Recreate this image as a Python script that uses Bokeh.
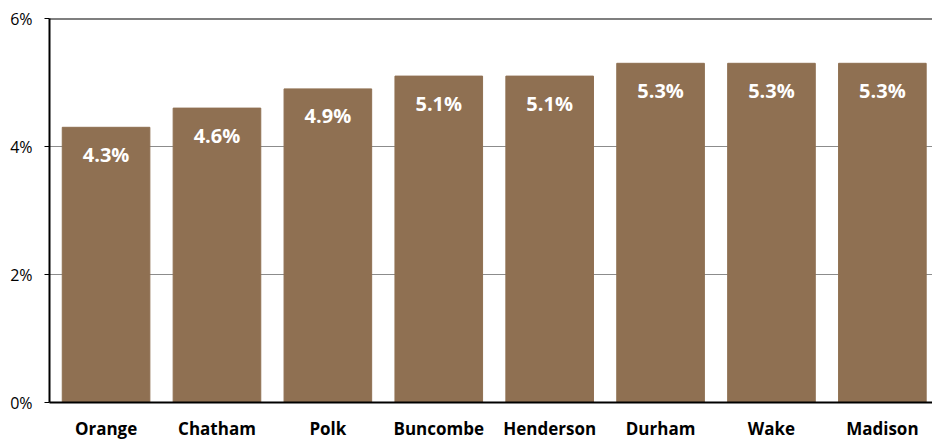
from bokeh.plotting import figure
from bokeh.models import ColumnDataSource, FixedTicker, Span, Range1d
from bokeh.core.properties import value
from bokeh.embed import file_html
from bokeh.resources import INLINE

counties = ["Orange", "Chatham", "Polk", "Buncombe", "Henderson", "Durham", "Wake", "Madison"]
rates = [4.3, 4.6, 4.9, 5.1, 5.1, 5.3, 5.3, 5.3]
y_ticks = [0, 2, 4, 6]
y_tick_labels = ["0%", "2%", "4%", "6%"]

FONT = "Open Sans"
BAR = "#8F7052"

idx = list(range(len(counties)))
src = ColumnDataSource(dict(x=idx, top=rates, lab=[f"{r:.1f}%" for r in rates]))

p = figure(frame_width=883, frame_height=384, output_backend="svg", toolbar_location=None,
           x_range=Range1d(-0.51, 7.452), y_range=Range1d(0, 6),
           min_border_left=49, min_border_right=0, min_border_top=18, min_border_bottom=30)
p.outline_line_color = None
p.background_fill_color = "white"

p.vbar(x="x", top="top", width=0.79, bottom=0, source=src, color=BAR)
p.text(x="x", y="top", text="lab", source=src, text_color="white",
       text_font=value(FONT), text_font_style="bold", text_font_size="20px",
       text_align="center", text_baseline="middle", y_offset=27)

p.xgrid.visible = False
p.ygrid.grid_line_color = "#8c8c8c"
p.ygrid.grid_line_width = 1
p.ygrid.ticker = FixedTicker(ticks=y_ticks)

p.yaxis.ticker = FixedTicker(ticks=y_ticks)
p.yaxis.major_label_overrides = {t: l for t, l in zip(y_ticks, y_tick_labels)}
p.yaxis.axis_line_color = "black"
p.yaxis.axis_line_width = 2
p.yaxis.major_tick_line_color = "black"
p.yaxis.major_tick_line_width = 1
p.yaxis.major_tick_out = 5
p.yaxis.major_tick_in = 0
p.yaxis.minor_tick_line_color = None
p.yaxis.major_label_standoff = 12
p.yaxis.major_label_text_font = FONT
p.yaxis.major_label_text_font_size = "16px"
p.yaxis.major_label_text_color = "black"

p.xaxis.ticker = FixedTicker(ticks=idx)
p.xaxis.major_label_overrides = {i: c for i, c in zip(idx, counties)}
p.xaxis.axis_line_color = "black"
p.xaxis.axis_line_width = 2
p.xaxis.major_tick_line_color = None
p.xaxis.minor_tick_line_color = None
p.xaxis.major_label_standoff = 8
p.xaxis.major_label_text_font = FONT
p.xaxis.major_label_text_font_style = "bold"
p.xaxis.major_label_text_font_size = "17px"
p.xaxis.major_label_text_color = "black"

p.add_layout(Span(location=6, dimension="width", line_color="black", line_width=2))

open("out.html", "w").write(file_html(p, INLINE))
